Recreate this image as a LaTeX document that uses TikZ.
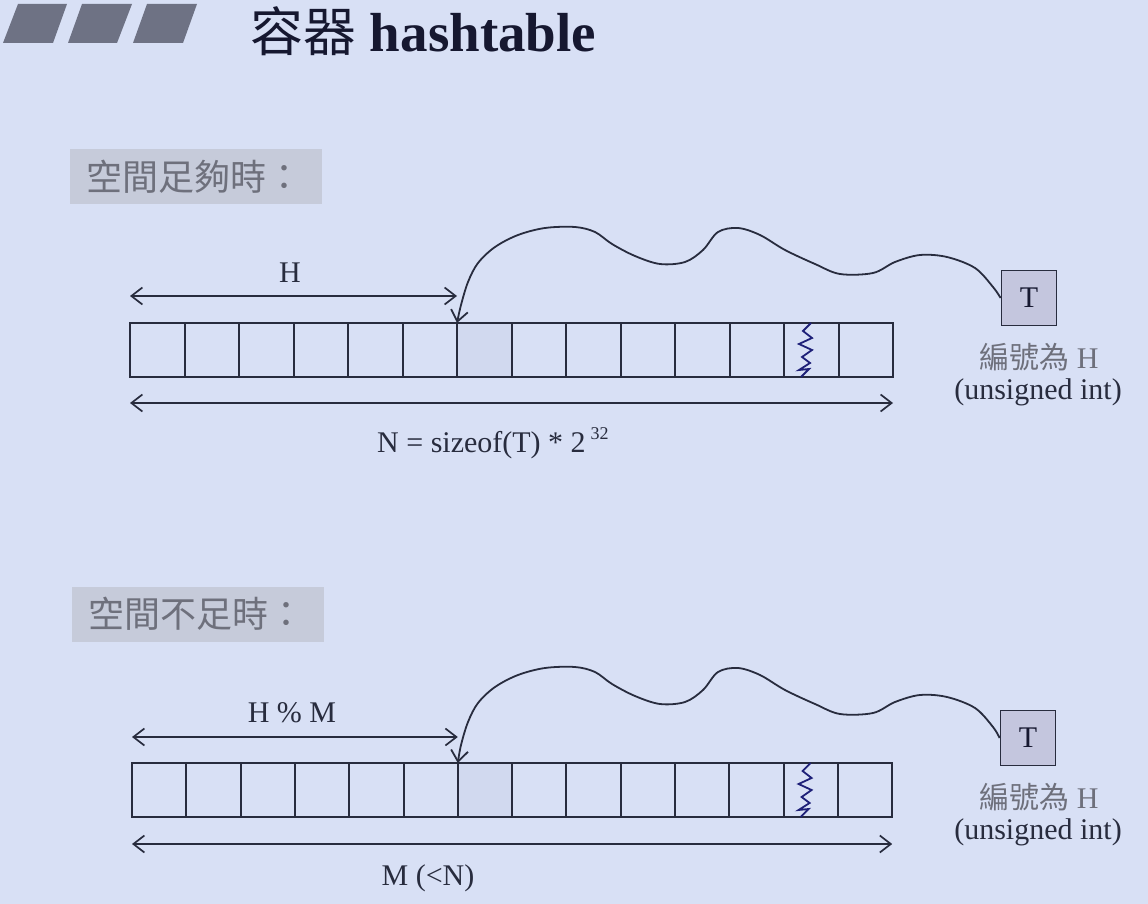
\documentclass[tikz,border=0pt]{standalone}
\usepackage{fontspec}
\setmainfont{Liberation Serif}
\newfontfamily\cjk{Noto Sans CJK TC}
\usetikzlibrary{arrows.meta}
\definecolor{bg}{RGB}{216,224,245}
\definecolor{boxgray}{RGB}{198,203,218}
\definecolor{ink}{RGB}{40,44,62}
\definecolor{tfill}{RGB}{196,198,222}
\definecolor{hl}{RGB}{209,217,239}
\definecolor{graytext}{RGB}{110,112,124}
\definecolor{zigblue}{RGB}{30,32,120}
\definecolor{sq}{RGB}{110,114,132}
\definecolor{titleink}{RGB}{22,24,48}
\begin{document}
\begin{tikzpicture}[x=1pt,y=-1pt,
  >={Straight Barb[length=11pt,width=17pt]},
  cell/.style={minimum height=54pt,inner sep=0pt,outer sep=0pt},
  grid/.style={draw=ink,line width=2pt},
  dim/.style={ink,line width=1.7pt,<->},
  curve/.style={ink,line width=1.8pt,->},
  tbox/.style={draw=ink,line width=1.8pt,fill=tfill,minimum size=55pt,inner sep=0pt,
    font=\fontsize{30}{36}\selectfont,text=titleink},
  lbl/.style={font=\fontsize{30}{36}\selectfont,text=ink,inner sep=0pt},
  cjklbl/.style={font=\fontsize{30}{36}\selectfont,text=graytext,inner sep=0pt},
  secbox/.style={fill=boxgray,minimum height=55pt,minimum width=252pt,anchor=west,
    inner xsep=16pt,text width=220pt,align=left,text=graytext,
    font=\cjk\fontsize{36}{42}\selectfont},
  zig/.style={zigblue,line width=1.8pt,line join=miter}
]
\useasboundingbox (0,0) rectangle (1148,904);
\fill[bg] (0,0) rectangle (1148,904);

% title squares
\fill[sq] (18,4) -- (67,4) -- (53,43) -- (3,43) -- cycle;
\fill[sq] (82,4) -- (132,4) -- (117,43) -- (68,43) -- cycle;
\fill[sq] (147,4) -- (197,4) -- (183,43) -- (133,43) -- cycle;
\node[anchor=west,inner sep=0pt,text=titleink,font=\fontsize{55}{60}\selectfont] (title) at (250,31)
  {{\cjk\fontsize{53}{60}\selectfont 容器} \textbf{hashtable}};

% ===== section 1 =====
\node[secbox] (s1) at (70,177) {空間足夠時：};
\foreach \i in {0,...,13}{
  \node[cell,minimum width=54.5pt] (a\i) at ({157.25+54.5*\i},350) {};
}
\fill[hl] (a6.north west) rectangle (a6.south east);
\draw[grid] (a0.north west) rectangle (a13.south east);
\foreach \i in {0,...,12}{
  \draw[grid] (a\i.north east) -- (a\i.south east);
}
\draw[zig] ([xshift=27pt]a12.north west) -- ++(-8,8) -- ++(9,7) -- ++(-13,6) -- ++(13,6)
  -- ++(-10,7) -- ++(8,6) -- ++(-11,7) -- ++(10,-1) -- ++(-8,8);
\draw[dim] ([yshift=27pt]a0.north west) -- ([yshift=27pt]a6.north west);
\node[lbl] (lH) at (290,273) {H};
\draw[dim] ([yshift=-26pt]a0.south west) -- ([yshift=-26pt]a13.south east);
\node[lbl,anchor=west] (lN) at (377,443) {N = sizeof(T) * 2\,\raisebox{0.42em}{\fontsize{18}{18}\selectfont 32}};
\node[tbox] (T1) at (1029,298) {T};
\node[cjklbl] (e1) at (1039,357) {{\cjk 編號為} H};
\node[lbl] (u1) at (1038,392) {(unsigned int)};
\draw[curve] plot[smooth,tension=0.55] coordinates {(T1.west) (993,287) (975,268) (947,257) (920,255)
  (895,262) (873,273) (840,274) (815,264) (785,250) (760,235) (738,228) (718,232) (703,250)
  (685,262) (660,264) (635,256) (612,244) (595,232) (575,227) (545,228) (518,235) (495,247)
  (478,263) (468,282) (461,305) (a6.north west)};

% ===== section 2 =====
\node[secbox] (s2) at (72,614) {空間不足時：};
\foreach \i in {0,...,13}{
  \node[cell,minimum width=54.3pt] (b\i) at ({159.15+54.3*\i},790) {};
}
\fill[hl] (b6.north west) rectangle (b6.south east);
\draw[grid] (b0.north west) rectangle (b13.south east);
\foreach \i in {0,...,12}{
  \draw[grid] (b\i.north east) -- (b\i.south east);
}
\draw[zig] ([xshift=27pt]b12.north west) -- ++(-8,8) -- ++(9,7) -- ++(-13,6) -- ++(13,6)
  -- ++(-10,7) -- ++(8,6) -- ++(-11,7) -- ++(10,-1) -- ++(-8,8);
\draw[dim] ([yshift=26pt]b0.north west) -- ([yshift=26pt]b6.north west);
\node[lbl] (lHM) at (292,713) {H \% M};
\draw[dim] ([yshift=-27pt]b0.south west) -- ([yshift=-27pt]b13.south east);
\node[lbl] (lM) at (428,878) {M (<N)};
\node[tbox] (T2) at (1028,738) {T};
\node[cjklbl] (e2) at (1039,797) {{\cjk 編號為} H};
\node[lbl] (u2) at (1038,832) {(unsigned int)};
\begin{scope}[yshift=-440pt]
\draw[curve] plot[smooth,tension=0.55] coordinates {(T2.west) (993,287) (975,268) (947,257) (920,255)
  (895,262) (873,273) (840,274) (815,264) (785,250) (760,235) (738,228) (718,232) (703,250)
  (685,262) (660,264) (635,256) (612,244) (595,232) (575,227) (545,228) (518,235) (495,247)
  (478,263) (468,282) (461,305) (b6.north west)};
\end{scope}
\end{tikzpicture}
\end{document}
